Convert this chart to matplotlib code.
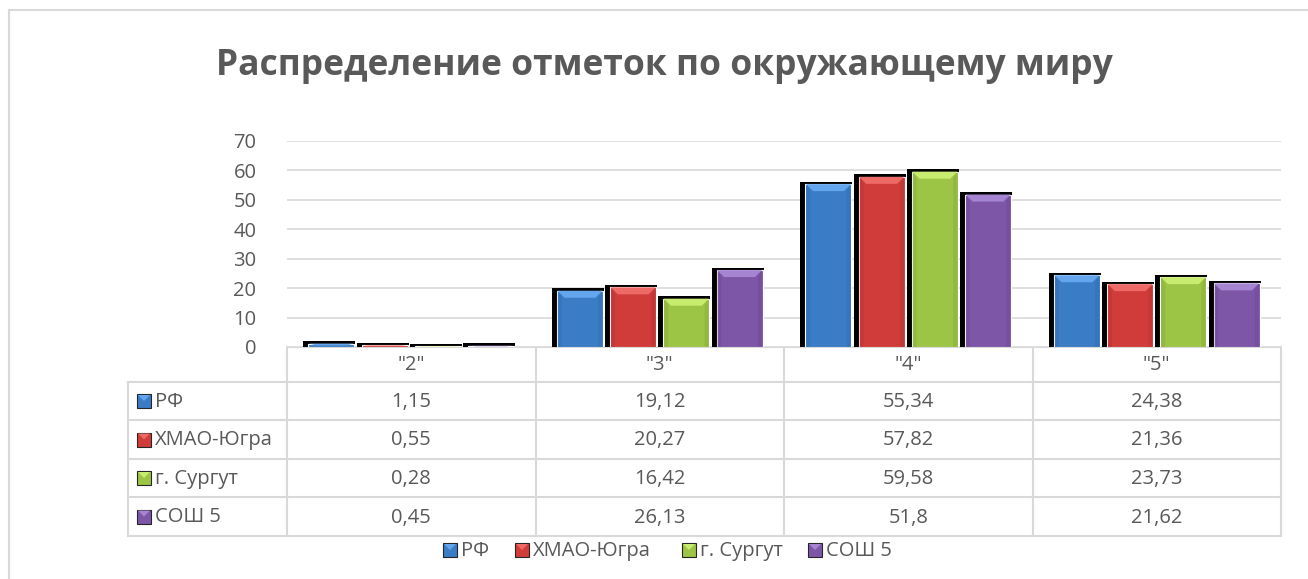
import matplotlib
matplotlib.use('Agg')
import matplotlib.pyplot as plt
from matplotlib.patches import Rectangle, Polygon

plt.rcParams['font.family'] = ['Open Sans', 'DejaVu Sans']

categories = ['"2"', '"3"', '"4"', '"5"']
series = ['РФ', 'ХМАО-Югра', 'г. Сургут', 'СОШ 5']
rf = [1.15, 19.12, 55.34, 24.38]
hmao = [0.55, 20.27, 57.82, 21.36]
surgut = [0.28, 16.42, 59.58, 23.73]
sosh = [0.45, 26.13, 51.8, 21.62]
values = [rf, hmao, surgut, sosh]

face = ['#3b7cc6', '#d03c3a', '#9cc445', '#7e56a8']
light = ['#64a6ee', '#ee6a66', '#c8ec70', '#a585d2']
dark = ['#2f64a3', '#a82e2d', '#7d9f35', '#644386']
txt = '#595959'
grid = '#d9d9d9'

W, H = 1308, 579
fig = plt.figure(figsize=(W / 100, H / 100), dpi=100)


def fx(px):
    return px / W


def fy(py):
    return 1 - py / H


# layout in pixels
x0, x1 = 287, 1281
ytop, ybot = 141, 347
ax = fig.add_axes([fx(x0), fy(ybot), fx(x1) - fx(x0), fy(ytop) - fy(ybot)])
ax.set_xlim(-0.5, 3.5)
ax.set_ylim(0, 70)
ax.set_yticks(range(0, 71, 10))
ax.set_xticks([])
ax.tick_params(axis='y', length=0, pad=22, labelsize=14.5, labelcolor=txt)
for s in ax.spines.values():
    s.set_visible(False)
ax.grid(axis='y', color=grid, lw=1.2)
ax.set_axisbelow(True)

pxx = 4 / (x1 - x0)       # data units per pixel, x
pxy = 70 / (ybot - ytop)  # data units per pixel, y
pitch = 0.214
bw = 0.185

for i, vals in enumerate(values):
    xs = [c + (i - 1.5) * pitch for c in range(len(categories))]
    # black shadow
    for xc, v in zip(xs, vals):
        ax.add_patch(Rectangle((xc - bw / 2 - 5 * pxx, 0), bw + 6 * pxx, v + 2.5 * pxy,
                               facecolor='black', edgecolor='none', zorder=2, clip_on=False))
for i, vals in enumerate(values):
    xs = [c + (i - 1.5) * pitch for c in range(len(categories))]
    ax.bar(xs, vals, width=bw, color=face[i], edgecolor='white', lw=0.8, zorder=3)
    for xc, v in zip(xs, vals):
        h = min(7 * pxy, v / 2)
        d = 7 * pxx
        l, r = xc - bw / 2 + 0.6 * pxx, xc + bw / 2 - 0.6 * pxx
        ax.add_patch(Polygon([(l, v), (r, v), (r - d, v - h), (l + d, v - h)],
                             closed=True, facecolor=light[i], edgecolor='none', zorder=4))
        # darker side strips
        if v > 3:
            ax.add_patch(Polygon([(l, v), (l + d * 0.6, v - h), (l + d * 0.6, 0), (l, 0)],
                                 closed=True, facecolor=dark[i], edgecolor='none', alpha=0.3, zorder=4))
            ax.add_patch(Polygon([(r, v), (r - d * 0.6, v - h), (r - d * 0.6, 0), (r, 0)],
                                 closed=True, facecolor=dark[i], edgecolor='none', alpha=0.3, zorder=4))

# overlay in pixel coordinates for frame, title, table and legend
ov = fig.add_axes([0, 0, 1, 1], zorder=-1)
ov.set_xlim(0, W)
ov.set_ylim(H, 0)
ov.axis('off')
ov.patch.set_alpha(0)

# chart frame
ov.plot([9, W], [10, 10], color=grid, lw=1.5)
ov.plot([9, 9], [10, H], color=grid, lw=1.5)

fig.text(fx(664), fy(66), 'Распределение отметок по окружающему миру',
         ha='center', va='center', fontsize=25.5, fontweight='bold', color=txt)

# data table
xl = 128
col = [x0 + k * (x1 - x0) / 4 for k in range(5)]
rows = [347, 382, 420, 459, 497, 536]
lc = '#d9d9d9'
ov.plot([x0, x1], [ybot, ybot], color=lc, lw=1.5)
for y in rows[1:]:
    ov.plot([xl, x1], [y, y], color=lc, lw=1.5)
ov.plot([xl, xl], [rows[1], rows[-1]], color=lc, lw=1.5)
for c in col:
    ov.plot([c, c], [rows[0], rows[-1]], color=lc, lw=1.5)

fs = 14.5
for k, cat in enumerate(categories):
    ov.text((col[k] + col[k + 1]) / 2, (rows[0] + rows[1]) / 2 + 1, cat,
            ha='center', va='center', fontsize=fs, color=txt)


def swatch(x, yc, i, size=14):
    ov.add_patch(Rectangle((x, yc - size / 2), size, size, facecolor=face[i],
                           edgecolor='#262626', lw=0.8))
    ov.add_patch(Polygon([(x + 1, yc - size / 2 + 1), (x + size - 1, yc - size / 2 + 1),
                          (x + size / 2, yc)], closed=True, facecolor=light[i], edgecolor='none'))


for i, name in enumerate(series):
    yc = (rows[i + 1] + rows[i + 2]) / 2
    swatch(137, yc, i)
    ov.text(155, yc + 1, name, ha='left', va='center', fontsize=fs, color=txt)
    for k, v in enumerate(values[i]):
        ov.text((col[k] + col[k + 1]) / 2, yc + 1, f'{v:g}'.replace('.', ','),
                ha='center', va='center', fontsize=fs, color=txt)

# legend
lx = [443, 515, 682, 808]
for i, name in enumerate(series):
    swatch(lx[i], 550, i)
    ov.text(lx[i] + 18, 551, name, ha='left', va='center', fontsize=fs, color=txt)

fig.savefig('out.png', dpi=100)
